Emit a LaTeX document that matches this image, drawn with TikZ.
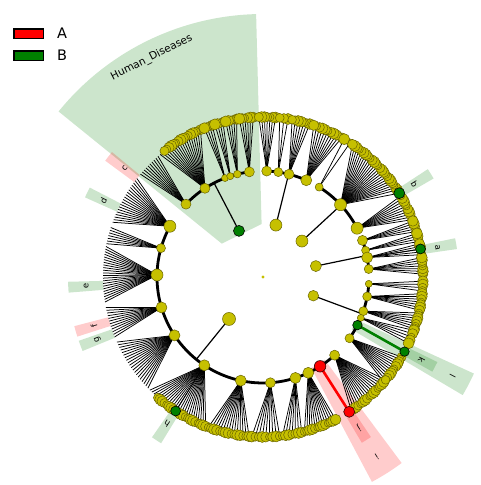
\documentclass[tikz,border=0pt]{standalone}
\usepackage{fontspec}
\setmainfont{DejaVu Sans}
\pgfdeclarelayer{shadelayer}
\pgfdeclarelayer{linelayer}
\pgfsetlayers{shadelayer,linelayer,main}
\definecolor{nodey}{RGB}{198,192,0}
\definecolor{nodeedge}{RGB}{105,100,0}
\definecolor{cgreen}{RGB}{0,128,0}
\definecolor{cred}{RGB}{255,0,0}
\tikzset{
  fanline/.style={line width=0.75pt, draw=black},
  ringline/.style={line width=2.8pt, draw=black},
  radline/.style={line width=1.2pt, draw=black},
  ynode/.style={circle, inner sep=0pt, outer sep=0pt, minimum size=#1, fill=nodey, draw=nodeedge, line width=0.5pt},
  gnode/.style={circle, inner sep=0pt, outer sep=0pt, minimum size=#1, fill=cgreen, draw=black, line width=0.6pt},
  rnode/.style={circle, inner sep=0pt, outer sep=0pt, minimum size=#1, fill=cred, draw=black!80!red, line width=0.6pt},
  gshade/.style={fill=cgreen, fill opacity=0.2},
  rshade/.style={fill=cred, fill opacity=0.2},
  lab/.style={font=\fontsize{8.5}{9}\selectfont, inner sep=0pt, text=black},
  legbox/.style={draw=black, line width=1.3pt, minimum width=29.5pt, minimum height=9.5pt, inner sep=0pt},
  legtext/.style={font=\fontsize{14.5}{15}\selectfont, inner sep=0pt, anchor=west},
}
\newcommand{\mysector}[6]{%
  \fill[#1] (#2:#4) -- (#2:#5) arc[start angle=#2, end angle=#3, radius=#5] -- (#3:#4) arc[start angle=#3, end angle=#2, radius=#4] -- cycle;}
\newcommand{\rlab}[4]{\node[lab, rotate=#2-90] (#1) at (#2:#3) {#4};}
\def\ringnodes{h1/136.6/10, h2/123.2/10, h3/111/7, h4/108/7, h5/104/7.6, h6/97.4/10,
  b1/88/10, b2/81.7/9, b3/75.8/10, b4/65.9/11,
  e1/58/8, e2/43/12, e3/27.4/12,
  c1/20.2/10, c2/14.6/8, c3/10.6/11, c4/4.3/9,
  d1/-3.7/7, d2/-10.6/9, d3/-18.8/9, d4/-22.7/7, d6/-35.3/9,
  l1/151.4/12, l2/164.2/9, l3/178.9/12, l4/196.7/11, l5/213.4/11, l6/236.4/11,
  l7/257.9/11, l8/274/10, l9/287.8/11, l10/295.3/11, l12/312.5/10}
\def\fans{h1/131/140/10, h2/113/130/18, h3/108.5/111.5/4, h4/104.5/107.5/4, h5/99.5/103.5/5, h6/93.5/98.5/6,
  b1/85.5/91.5/7, b2/81/84/3, b3/73/79.5/7, b4/60.5/71.5/11,
  e1/57/59.5/2, e2/33/56/24, e3/21/30.5/10,
  c1/16.5/20.5/5, c2/12.8/15.8/4, c3/8/12/5, c4/1/7/7,
  d1/-1.5/-5/4, d2/-6/-12/7, d3/-13/-19/7, d4/-19.5/-24.5/5, d6/-30/-41/12,
  l1/142/160/19, l2/162/168/7, l3/169/189/22, l4/191/202/12, l5/204/224/20, l6/225/249/25,
  l7/250/265/15, l8/266/276/9, l9/277/284/7, l10/285/297/13, l12/303.5/320/17}
\begin{document}
\begin{tikzpicture}[x=1pt,y=1pt]
\useasboundingbox (-263,-208) rectangle (218,277);
\begin{pgfonlayer}{shadelayer}
  \fill[white] (-263,-208) rectangle (218,277);
  % Human_Diseases wedge
  \fill[gshade] (141:53pt) -- (141:263pt) arc[start angle=141, end angle=91.5, radius=263pt] -- (91.5:53pt) -- cycle;
  % clade wedges
  \mysector{rshade}{-62}{-53.3}{103pt}{232pt}{i}
  \mysector{gshade}{-30.6}{-24.6}{103pt}{232pt}{l}
  % leaf wedges
  \mysector{gshade}{8.2}{11.4}{163pt}{196pt}{a}
  \mysector{gshade}{30}{33.2}{163pt}{197pt}{b}
  \mysector{rshade}{140.4}{143.6}{160pt}{196pt}{c}
  \mysector{gshade}{152.7}{155.9}{160pt}{195pt}{d}
  \mysector{gshade}{181.4}{184.6}{160pt}{195pt}{e}
  \mysector{rshade}{194.6}{197.8}{160pt}{195pt}{f}
  \mysector{gshade}{199.1}{202.3}{160pt}{195pt}{g}
  \mysector{gshade}{235.3}{238.5}{164pt}{195pt}{h}
  \mysector{rshade}{-59.2}{-56}{164pt}{193pt}{j}
  \mysector{gshade}{-29.2}{-26}{164pt}{194pt}{k}
\end{pgfonlayer}
% coordinates of ring nodes
\foreach \nm/\a/\sz in \ringnodes {\coordinate (r-\nm) at (\a:106pt);}
\coordinate (r-d5) at (-27:106pt);
\coordinate (r-l11) at (302.6:106pt);
% special leaves
\coordinate (lf-a) at (10.1:160pt);
\coordinate (lf-b) at (31.6:160pt);
\coordinate (lf-h) at (236.9:160pt);
\coordinate (lf-j) at (302.6:160pt);
\coordinate (lf-k) at (-27.8:160pt);
\begin{pgfonlayer}{linelayer}
  % fans
  \foreach \nm/\sa/\ea/\cnt in \fans {
    \foreach \k in {1,...,\cnt} {
      \pgfmathsetmacro\ang{\sa+(\ea-\sa)*(\k-1)/max(\cnt-1,1)}
      \coordinate (lf-\nm-\k) at (\ang:160pt);
      \draw[fanline] (r-\nm) -- (lf-\nm-\k);
    }
  }
  \draw[fanline] (r-c3) -- (lf-a);
  \draw[fanline] (r-e2) -- (lf-b);
  \draw[fanline] (r-l6) -- (lf-h);
  \draw[line width=2.6pt, cred] (r-l11) -- (lf-j);
  \draw[line width=2.6pt, cgreen] (r-d5) -- (lf-k);
  % ring arcs
  \draw[ringline] (r-h1) arc[start angle=136.6, end angle=97.4, radius=106pt];
  \draw[ringline] (r-b1) arc[start angle=88, end angle=65.9, radius=106pt];
  \draw[ringline] (r-e1) arc[start angle=58, end angle=27.4, radius=106pt];
  \draw[ringline] (r-c1) arc[start angle=20.2, end angle=4.3, radius=106pt];
  \draw[ringline] (r-d1) arc[start angle=-3.7, end angle=-35.3, radius=106pt];
  \draw[ringline] (r-l1) arc[start angle=151.4, end angle=312.5, radius=106pt];
  % level-1 links
  \foreach \nm/\a/\rr in {hd/117.5/52, pb/76/53.5, pe/42.7/53, pc/11.7/54, pd/-20.4/53.7, pl/231/54} {
    \coordinate (p-\nm) at (\a:\rr pt);
    \coordinate (q-\nm) at (\a:106pt);
    \draw[radline] (p-\nm) -- (q-\nm);
  }
\end{pgfonlayer}
% leaf circles
\foreach \nm/\sa/\ea/\cnt in \fans {
  \foreach \k in {1,...,\cnt} {
    \pgfmathsetmacro\ang{\sa+(\ea-\sa)*(\k-1)/max(\cnt-1,1)}
    \pgfmathtruncatemacro\hasc{(\ang<128.5 || \ang>228.5) ? 1 : 0}
    \ifnum\hasc=1
      \pgfmathsetmacro\dd{2*(3.7+1.8*abs(sin(\ang*41)))}
      \node[ynode=\dd pt] (lc-\nm-\k) at (lf-\nm-\k) {};
    \fi
  }
}
\node[gnode=10pt] (n-a) at (lf-a) {};
\node[gnode=11pt] (n-b) at (lf-b) {};
\node[gnode=10pt] (n-h) at (lf-h) {};
\node[rnode=11pt] (n-j) at (lf-j) {};
\node[gnode=9.5pt] (n-k) at (lf-k) {};
% ring nodes
\foreach \nm/\a/\sz in \ringnodes {\node[ynode=\sz pt] (n-\nm) at (r-\nm) {};}
\node[gnode=9.5pt] (n-d5) at (r-d5) {};
\node[rnode=11.5pt] (n-l11) at (r-l11) {};
% level-1 nodes
\node[gnode=11pt] (n-hd) at (p-hd) {};
\node[ynode=12pt] (n-pb) at (p-pb) {};
\node[ynode=12pt] (n-pe) at (p-pe) {};
\node[ynode=11pt] (n-pc) at (p-pc) {};
\node[ynode=10.6pt] (n-pd) at (p-pd) {};
\node[ynode=13pt] (n-pl) at (p-pl) {};
\node[circle, fill=nodey, inner sep=0pt, minimum size=3.2pt] (root) at (0,0) {};
% labels
\node[font=\fontsize{10.5}{11}\selectfont, inner sep=0pt, rotate=26.9] (t-hd) at (116.9:246pt) {Human\_Diseases};
\rlab{t-a}{9.6}{177pt}{a}
\rlab{t-b}{31.6}{178pt}{b}
\rlab{t-c}{141.8}{176pt}{c}
\rlab{t-d}{154.3}{177pt}{d}
\rlab{t-e}{183}{177pt}{e}
\rlab{t-f}{196.2}{176pt}{f}
\rlab{t-g}{200.7}{177pt}{g}
\rlab{t-h}{236.7}{175pt}{h}
\rlab{t-j}{-57.6}{179pt}{j}
\rlab{t-k}{-27.6}{179pt}{k}
\rlab{t-i}{-57.7}{213pt}{i}
\rlab{t-l}{-27.6}{214pt}{l}
% legend
\node[legbox, fill=cred] (legA) at (-234.2,243.3) {};
\node[legbox, fill=cgreen] (legB) at (-234.2,221.2) {};
\node[legtext] (legAt) at (-206,243.6) {A};
\node[legtext] (legBt) at (-206,221.3) {B};
\end{tikzpicture}
\end{document}
